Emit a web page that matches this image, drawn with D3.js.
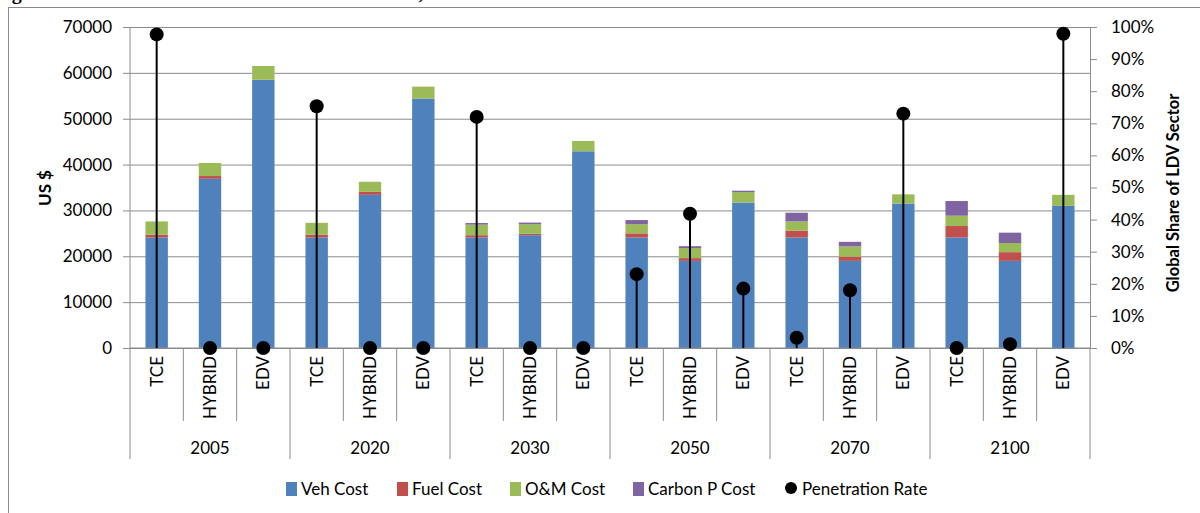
<!DOCTYPE html>
<html>
<head>
<meta charset="utf-8">
<script src="https://cdnjs.cloudflare.com/ajax/libs/d3/7.8.5/d3.min.js"></script>
<style>
  body { margin: 0; background: #fff; }
  text { font-family: Lato, "Open Sans", sans-serif; fill: #000; }
</style>
</head>
<body>
<script>
// data
var years = ["2005", "2020", "2030", "2050", "2070", "2100"];
var techs = ["TCE", "HYBRID", "EDV"];
var vehCost = [24100, 36900, 58500, 24100, 33400, 54400, 24100, 24600, 42900, 24100, 19000, 31700, 24100, 19000, 31500, 24100, 19000, 31000];
var fuelCost = [600, 600, 0, 600, 650, 0, 500, 300, 0, 900, 600, 0, 1500, 900, 0, 2500, 1900, 0];
var omCost = [2900, 2850, 3000, 2600, 2200, 2600, 2300, 2100, 2250, 2000, 2200, 2300, 2000, 2250, 2000, 2250, 2000, 2400];
var carbonCost = [0, 0, 0, 0, 0, 0, 350, 350, 0, 900, 400, 300, 1900, 1000, 0, 3200, 2250, 0];
var penetration = [0.977, 0, 0, 0.753, 0, 0, 0.72, 0, 0, 0.23, 0.418, 0.185, 0.032, 0.18, 0.73, 0, 0.012, 0.979];
var costTicks = [0, 10000, 20000, 30000, 40000, 50000, 60000, 70000];
var shareTicks = [0, 0.1, 0.2, 0.3, 0.4, 0.5, 0.6, 0.7, 0.8, 0.9, 1];
var seriesNames = ["Veh Cost", "Fuel Cost", "O&M Cost", "Carbon P Cost"];
var colors = ["#4F81BD", "#C0504D", "#9BBB59", "#8064A2"];

var width = 1200;
var height = 513;
var pLeft = 130;
var pRight = 1090;
var pTop = 27;
var pBottom = 348;

var svg = d3
  .select("body")
  .append("svg")
  .attr("width", width)
  .attr("height", height);

// outer frame, runs off the right and bottom edges
svg
  .append("rect")
  .attr("x", 8.5)
  .attr("y", 7.5)
  .attr("width", 1300)
  .attr("height", 600)
  .attr("fill", "none")
  .attr("stroke", "#8a8a8a");

// cut-off title above the frame
svg
  .append("text")
  .attr("x", -6)
  .attr("y", -1)
  .style("font-family", "'Liberation Serif', serif")
  .style("font-weight", "bold")
  .attr("font-size", 20)
  .text("Figure 6: Vehicle Costs and Market Share of TCE, HYBRID and EDV Vehicles in the LDV Sector");

var cats = [];
years.forEach(function(y) {
  techs.forEach(function(t) {
    cats.push(y + "|" + t);
  });
});

var xScale = d3
  .scaleBand()
  .domain(cats)
  .range([pLeft, pRight])
  .paddingInner(0.58)
  .paddingOuter(0.29);
var yScale = d3
  .scaleLinear()
  .domain([0, 70000])
  .range([pBottom, pTop]);
var pScale = d3
  .scaleLinear()
  .domain([0, 1])
  .range([pBottom, pTop]);

// gridlines + left labels
var yAxis = svg
  .append("g")
  .attr("transform", "translate(" + pRight + ",0)")
  .call(
    d3
      .axisLeft(yScale)
      .tickValues(costTicks)
      .tickSize(pRight - pLeft + 7)
      .tickPadding(11)
      .tickFormat(d3.format("d"))
  );
yAxis.select(".domain").remove();
yAxis.selectAll("line").attr("stroke", "#8c8c8c");
yAxis
  .selectAll("text")
  .attr("font-size", 17)
  .style("font-family", "Lato, sans-serif");

svg
  .append("line")
  .attr("x1", pLeft)
  .attr("x2", pLeft)
  .attr("y1", pTop)
  .attr("y2", pBottom)
  .attr("stroke", "#8c8c8c");

// right axis
var pAxis = svg
  .append("g")
  .attr("transform", "translate(" + pRight + ",0)")
  .call(
    d3
      .axisRight(pScale)
      .tickValues(shareTicks)
      .tickSizeInner(7)
      .tickSizeOuter(0)
      .tickPadding(14)
      .tickFormat(d3.format(".0%"))
  );
pAxis.selectAll("line").attr("stroke", "#8c8c8c");
pAxis.select(".domain").attr("stroke", "#8c8c8c");
pAxis
  .selectAll("text")
  .attr("font-size", 17)
  .style("font-family", "Lato, sans-serif");

// stacked bars
var rows = cats.map(function(c, i) {
  return {
    cat: c,
    "Veh Cost": vehCost[i],
    "Fuel Cost": fuelCost[i],
    "O&M Cost": omCost[i],
    "Carbon P Cost": carbonCost[i]
  };
});
var stacked = d3.stack().keys(seriesNames)(rows);

svg
  .append("g")
  .selectAll("g")
  .data(stacked)
  .join("g")
  .attr("fill", function(d, i) {
    return colors[i];
  })
  .selectAll("rect")
  .data(function(d) {
    return d;
  })
  .join("rect")
  .attr("x", function(d) {
    return xScale(d.data.cat);
  })
  .attr("width", xScale.bandwidth())
  .attr("y", function(d) {
    return yScale(d[1]);
  })
  .attr("height", function(d) {
    return yScale(d[0]) - yScale(d[1]);
  });

// category separators under the axis
var step = xScale.step();
svg
  .append("g")
  .selectAll("line")
  .data(d3.range(cats.length + 1))
  .join("line")
  .attr("x1", function(i) {
    return pLeft + i * step;
  })
  .attr("x2", function(i) {
    return pLeft + i * step;
  })
  .attr("y1", pBottom)
  .attr("y2", function(i) {
    return i % 3 == 0 ? 459 : 421;
  })
  .attr("stroke", "#8c8c8c");

svg
  .append("line")
  .attr("x1", pLeft)
  .attr("x2", pRight)
  .attr("y1", pBottom)
  .attr("y2", pBottom)
  .attr("stroke", "#8c8c8c");

svg
  .append("g")
  .selectAll("text")
  .data(cats)
  .join("text")
  .attr("transform", function(d) {
    return "translate(" + (xScale(d) + xScale.bandwidth() / 2 + 6) + ",356) rotate(-90)";
  })
  .attr("text-anchor", "end")
  .attr("font-size", 17)
  .text(function(d) {
    return d.split("|")[1];
  });

svg
  .append("g")
  .selectAll("text")
  .data(years)
  .join("text")
  .attr("x", function(d, i) {
    return pLeft + (i * 3 + 1.5) * step;
  })
  .attr("y", 454)
  .attr("text-anchor", "middle")
  .attr("font-size", 17)
  .text(function(d) {
    return d;
  });

// penetration rate drop lines and dots
var pen = svg.append("g");
pen
  .selectAll("line")
  .data(penetration)
  .join("line")
  .attr("x1", function(d, i) {
    return xScale(cats[i]) + xScale.bandwidth() / 2;
  })
  .attr("x2", function(d, i) {
    return xScale(cats[i]) + xScale.bandwidth() / 2;
  })
  .attr("y1", pScale(0))
  .attr("y2", function(d) {
    return pScale(d);
  })
  .attr("stroke", "#000")
  .attr("stroke-width", 2);
pen
  .selectAll("circle")
  .data(penetration)
  .join("circle")
  .attr("cx", function(d, i) {
    return xScale(cats[i]) + xScale.bandwidth() / 2;
  })
  .attr("cy", function(d) {
    return pScale(d);
  })
  .attr("r", 7)
  .attr("fill", "#000");

// axis titles
svg
  .append("text")
  .attr("transform", "translate(51,188) rotate(-90)")
  .attr("text-anchor", "middle")
  .style("font-weight", "bold")
  .attr("font-size", 17)
  .text("US $");
svg
  .append("text")
  .attr("transform", "translate(1179,193) rotate(-90)")
  .attr("text-anchor", "middle")
  .style("font-weight", "bold")
  .attr("font-size", 16.5)
  .text("Global Share of LDV Sector");

// legend
var legendX = [286, 397, 510, 633];
var legend = svg.append("g");
seriesNames.forEach(function(name, i) {
  legend
    .append("rect")
    .attr("x", legendX[i])
    .attr("y", 482)
    .attr("width", 11)
    .attr("height", 14)
    .attr("fill", colors[i]);
  legend
    .append("text")
    .attr("x", legendX[i] + 15)
    .attr("y", 495)
    .attr("font-size", 17)
    .text(name);
});
legend
  .append("circle")
  .attr("cx", 791)
  .attr("cy", 488)
  .attr("r", 6)
  .attr("fill", "#000");
legend
  .append("text")
  .attr("x", 802)
  .attr("y", 495)
  .attr("font-size", 17)
  .text("Penetration Rate");
</script>
</body>
</html>
